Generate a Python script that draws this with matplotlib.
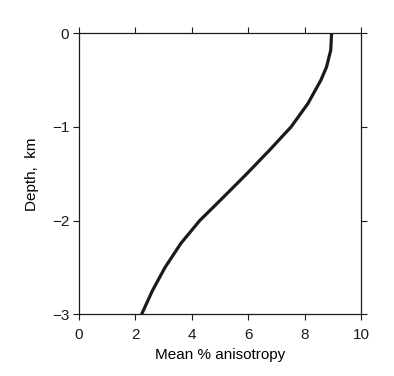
import numpy as np
import matplotlib.pyplot as plt

plt.rcParams["font.family"] = ["Liberation Sans", "DejaVu Sans"]

# mean anisotropy (%) at each depth (km)
depth = [0.0, -0.18, -0.36, -0.5, -0.75, -1.0, -1.25, -1.5, -1.75,
         -2.0, -2.24, -2.5, -2.75, -3.0]
aniso = [8.96, 8.93, 8.78, 8.58, 8.12, 7.52, 6.75, 5.95, 5.12,
         4.28, 3.62, 3.05, 2.60, 2.22]

fig = plt.figure(figsize=(3.94, 3.76), dpi=100)
ax = fig.add_axes([0.2005, 0.164, 0.7155, 0.7474])

ax.plot(aniso, depth, color="#1a1a1a", linewidth=2.3, solid_capstyle="butt",
        solid_joinstyle="round")

ax.set_xlim(0, 10)
ax.set_ylim(-3, 0)
ax.set_xticks([0, 2, 4, 6, 8, 10])
ax.set_yticks([0, -1, -2, -3])
ax.tick_params(direction="out", length=4, width=0.8, labelsize=11,
               top=True, right=True, labeltop=False, labelright=False,
               colors="#1a1a1a")
ax.tick_params(axis="x", pad=6)
ax.tick_params(axis="y", pad=3)
for s in ax.spines.values():
    s.set_linewidth(0.9)
    s.set_color("#1a1a1a")

ax.set_xlabel("Mean % anisotropy", fontsize=11, labelpad=4)
ax.set_ylabel("Depth,  km", fontsize=11, labelpad=9)

fig.savefig("out.png", dpi=100)
